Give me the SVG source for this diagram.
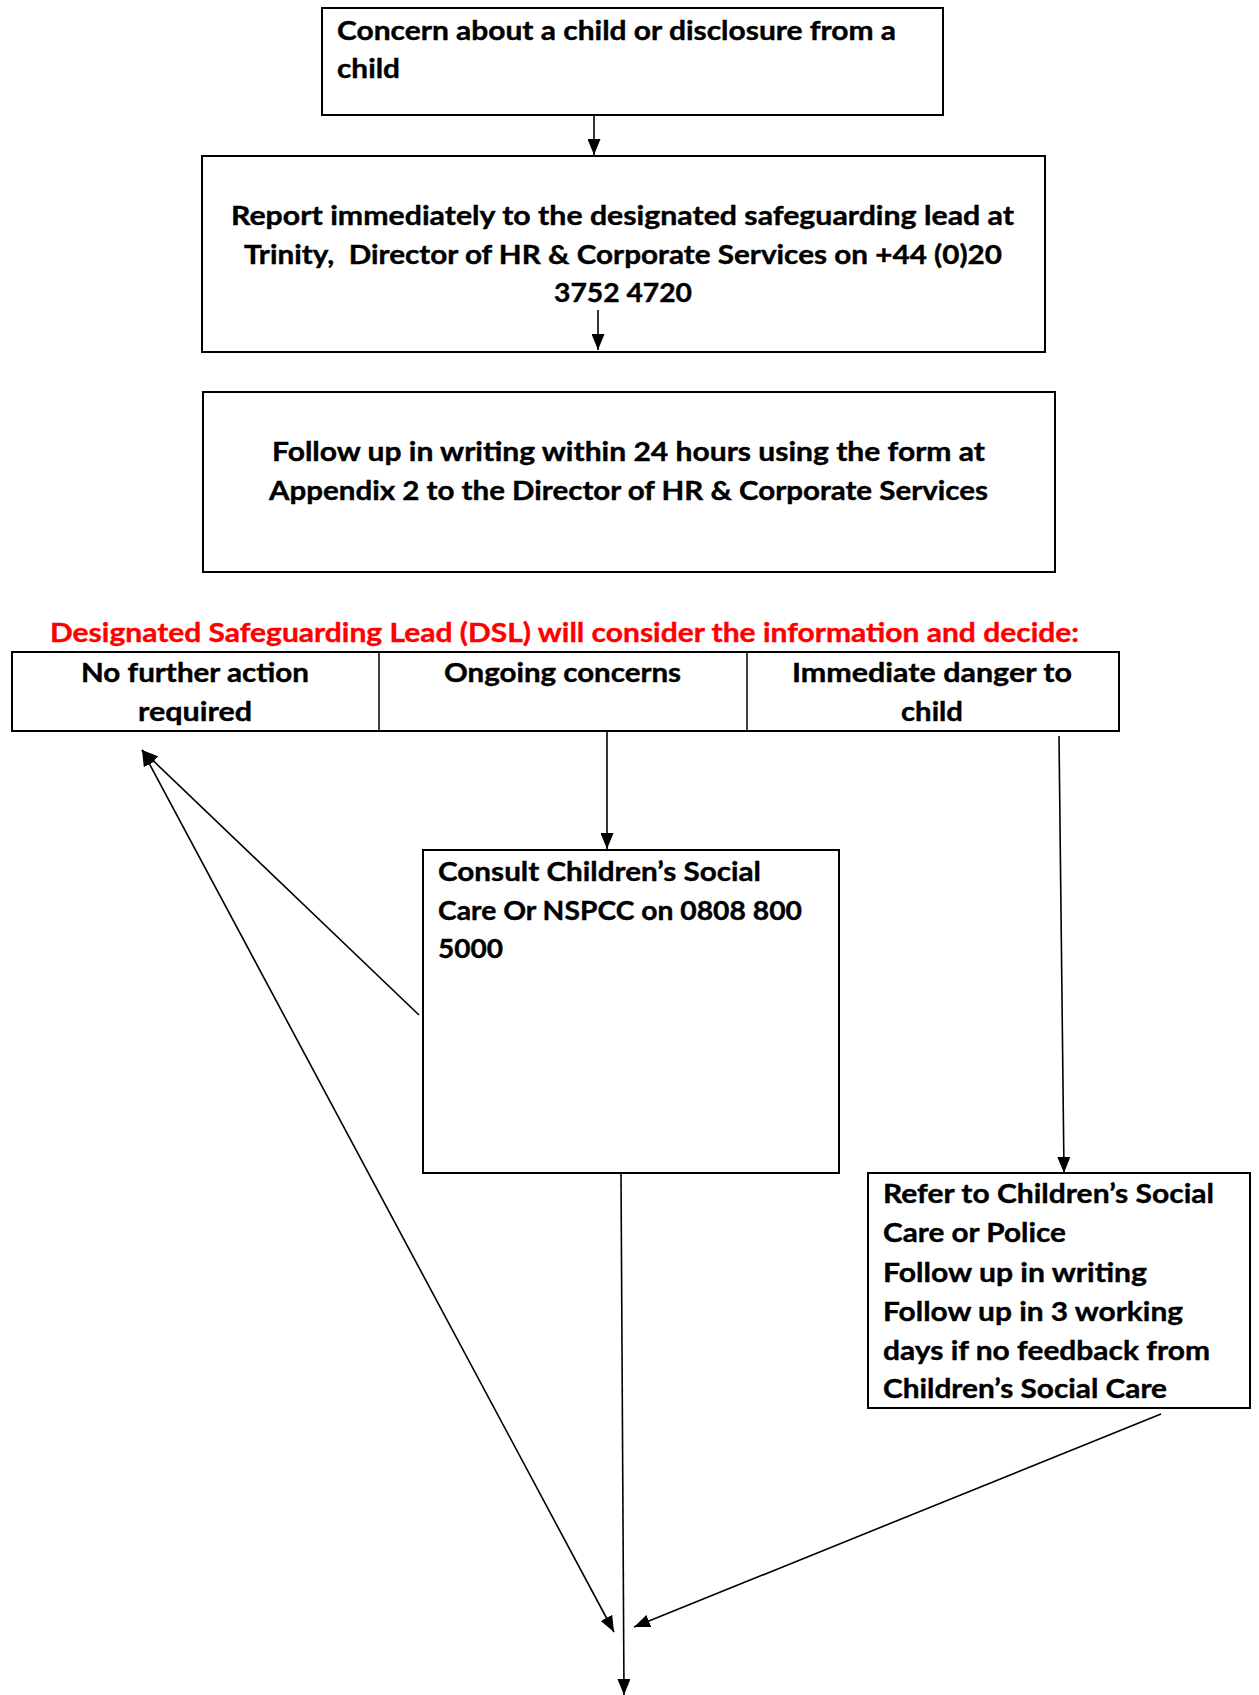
<svg xmlns="http://www.w3.org/2000/svg" width="1259" height="1695" viewBox="0 0 1259 1695">
<defs>
<style>
.box{fill:#fff;stroke:#000;stroke-width:2}
.t{font-family:Lato,"Open Sans","Liberation Sans",sans-serif;font-weight:bold;font-size:27px;fill:#000;stroke:#000;stroke-width:0.4}
.red{fill:#ff0000;stroke:#ff0000}
.ln{stroke:#000;stroke-width:1.6;fill:none}
</style>
<marker id="ah" viewBox="0 0 16 13" refX="16" refY="6.5" markerWidth="16" markerHeight="13" markerUnits="userSpaceOnUse" orient="auto-start-reverse">
<path d="M0,0 L16,6.5 L0,13 Z" fill="#000"/>
</marker>
</defs>
<rect width="1259" height="1695" fill="#fff"/>

<g id="n1">
<rect class="box" x="322" y="8" width="621" height="107"/>
<text class="t" x="337" y="40" textLength="559" lengthAdjust="spacingAndGlyphs">Concern about a child or disclosure from a</text>
<text class="t" x="337" y="78" textLength="63" lengthAdjust="spacingAndGlyphs">child</text>
</g>

<g id="n2">
<rect class="box" x="202" y="156" width="843" height="196"/>
<text class="t" x="231" y="225" textLength="783" lengthAdjust="spacingAndGlyphs">Report immediately to the designated safeguarding lead at</text>
<text class="t" x="244" y="264" textLength="758" lengthAdjust="spacingAndGlyphs" style="white-space:pre">Trinity,  Director of HR &amp; Corporate Services on +44 (0)20</text>
<text class="t" x="554" y="302" textLength="138" lengthAdjust="spacingAndGlyphs">3752 4720</text>
</g>

<g id="n3">
<rect class="box" x="203" y="392" width="852" height="180"/>
<text class="t" x="272" y="461" textLength="713" lengthAdjust="spacingAndGlyphs">Follow up in writing within 24 hours using the form at</text>
<text class="t" x="269" y="500" textLength="719" lengthAdjust="spacingAndGlyphs">Appendix 2 to the Director of HR &amp; Corporate Services</text>
</g>

<g id="heading">
<text class="t red" x="50" y="642" textLength="1029" lengthAdjust="spacingAndGlyphs">Designated Safeguarding Lead (DSL) will consider the information and decide:</text>
</g>

<g id="decision">
<rect class="box" x="12" y="652" width="1107" height="79"/>
<line class="ln" x1="379" y1="652" x2="379" y2="731" style="stroke-width:1.5"/>
<line class="ln" x1="747" y1="652" x2="747" y2="731" style="stroke-width:1.5"/>
<g id="n4">
<text class="t" x="81" y="682" textLength="228" lengthAdjust="spacingAndGlyphs">No further action</text>
<text class="t" x="138" y="721" textLength="114" lengthAdjust="spacingAndGlyphs">required</text>
</g>
<g id="n5">
<text class="t" x="444" y="682" textLength="237" lengthAdjust="spacingAndGlyphs">Ongoing concerns</text>
</g>
<g id="n6">
<text class="t" x="792" y="682" textLength="280" lengthAdjust="spacingAndGlyphs">Immediate danger to</text>
<text class="t" x="901" y="721" textLength="62" lengthAdjust="spacingAndGlyphs">child</text>
</g>
</g>

<g id="n7">
<rect class="box" x="423" y="850" width="416" height="323"/>
<text class="t" x="438" y="881" textLength="323" lengthAdjust="spacingAndGlyphs">Consult Children’s Social</text>
<text class="t" x="438" y="920" textLength="364" lengthAdjust="spacingAndGlyphs">Care Or NSPCC on 0808 800</text>
<text class="t" x="438" y="958" textLength="65" lengthAdjust="spacingAndGlyphs">5000</text>
</g>

<g id="n8">
<rect class="box" x="868" y="1173" width="382" height="235"/>
<text class="t" x="883" y="1203" textLength="331" lengthAdjust="spacingAndGlyphs">Refer to Children’s Social</text>
<text class="t" x="883" y="1242" textLength="183" lengthAdjust="spacingAndGlyphs">Care or Police</text>
<text class="t" x="883" y="1282" textLength="264" lengthAdjust="spacingAndGlyphs">Follow up in writing</text>
<text class="t" x="883" y="1321" textLength="300" lengthAdjust="spacingAndGlyphs">Follow up in 3 working</text>
<text class="t" x="883" y="1360" textLength="327" lengthAdjust="spacingAndGlyphs">days if no feedback from</text>
<text class="t" x="883" y="1398" textLength="284" lengthAdjust="spacingAndGlyphs">Children’s Social Care</text>
</g>

<g id="connectors">
<line class="ln" x1="594" y1="115" x2="594" y2="155" marker-end="url(#ah)"/>
<line class="ln" x1="598" y1="310" x2="598" y2="350" marker-end="url(#ah)"/>
<line class="ln" x1="607" y1="731" x2="607" y2="849" marker-end="url(#ah)"/>
<line class="ln" x1="1059" y1="736" x2="1064" y2="1173" marker-end="url(#ah)"/>
<line class="ln" x1="419" y1="1015" x2="142" y2="750" marker-end="url(#ah)"/>
<line class="ln" x1="142" y1="750" x2="614" y2="1632" marker-start="url(#ah)" marker-end="url(#ah)"/>
<line class="ln" x1="1161" y1="1414" x2="634" y2="1627" marker-end="url(#ah)"/>
<line class="ln" x1="621" y1="1173" x2="624" y2="1695" marker-end="url(#ah)"/>
</g>
</svg>
